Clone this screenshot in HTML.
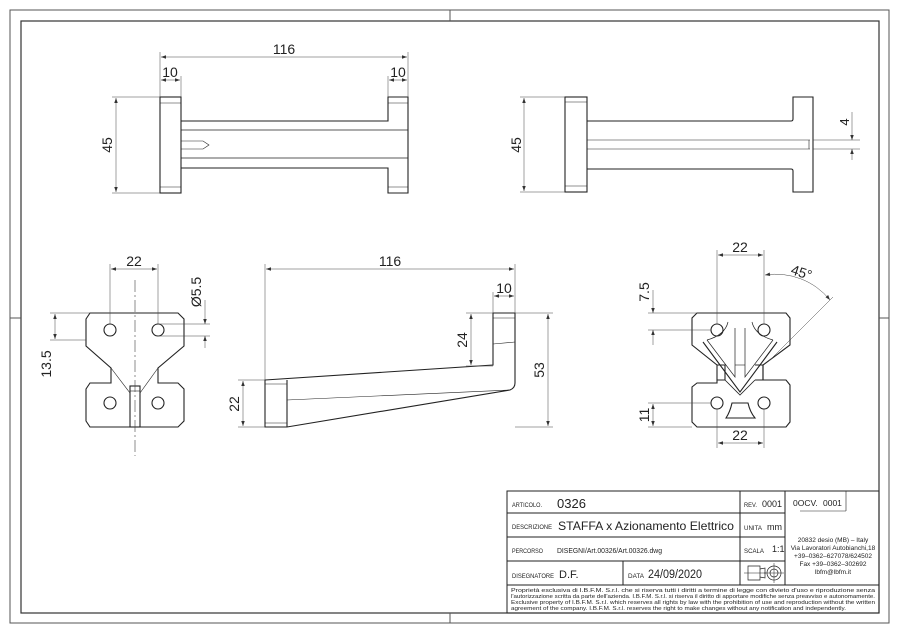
<!DOCTYPE html>
<html><head><meta charset="utf-8"><style>
html,body{margin:0;padding:0;background:#fff}
svg{display:block}
text{font-family:"Liberation Sans",sans-serif;fill:#222}
</style></head><body>
<svg width="900" height="635" viewBox="0 0 900 635" xmlns="http://www.w3.org/2000/svg">
<defs>
<marker id="a" viewBox="0 0 10 10" refX="10" refY="5" markerWidth="7" markerHeight="5" orient="auto-start-reverse" markerUnits="userSpaceOnUse"><path d="M0,1.5 L10,5 L0,8.5z" fill="#333"/></marker>
</defs>
<rect x="10" y="10" width="879" height="613" fill="none" stroke="#555" stroke-width="1"/>
<rect x="21" y="21" width="858" height="592" fill="none" stroke="#333" stroke-width="1.2"/>
<g stroke="#555" stroke-width="1"><line x1="450" y1="10" x2="450" y2="21"/><line x1="450" y1="613" x2="450" y2="623"/><line x1="10" y1="318" x2="21" y2="318"/><line x1="879" y1="318" x2="889" y2="318"/></g>

<!-- VIEW 1 -->
<g fill="none" stroke="#222" stroke-width="1.1">
<rect x="160" y="97" width="21" height="96"/>
<line x1="160" y1="103" x2="181" y2="103" stroke-width="0.6"/><line x1="160" y1="187" x2="181" y2="187" stroke-width="0.6"/>
<path d="M181,121 H388 V97 H408 V193 H388 V168 H181"/>
<line x1="181" y1="130" x2="408" y2="130" stroke-width="0.7"/><line x1="181" y1="158" x2="408" y2="158" stroke-width="0.7"/>
<line x1="388" y1="103" x2="408" y2="103" stroke-width="0.6"/><line x1="388" y1="187" x2="408" y2="187" stroke-width="0.6"/>
<path d="M181,141 H203 L209,145 L203,149 H181" stroke-width="0.6"/>
</g>
<g stroke="#444" stroke-width="0.5" fill="none">
<line x1="160" y1="52" x2="160" y2="97"/><line x1="408" y1="52" x2="408" y2="97"/><line x1="181" y1="76" x2="181" y2="97"/><line x1="388" y1="76" x2="388" y2="97"/>
<line x1="161" y1="57" x2="407" y2="57" marker-start="url(#a)" marker-end="url(#a)"/>
<line x1="161" y1="80" x2="180" y2="80" marker-start="url(#a)" marker-end="url(#a)"/>
<line x1="389" y1="80" x2="407" y2="80" marker-start="url(#a)" marker-end="url(#a)"/>
<line x1="112" y1="97" x2="160" y2="97"/><line x1="112" y1="193" x2="160" y2="193"/>
<line x1="116" y1="98" x2="116" y2="192" marker-start="url(#a)" marker-end="url(#a)"/>
</g>
<text x="284" y="54" font-size="14" text-anchor="middle">116</text>
<text x="170" y="77" font-size="14" text-anchor="middle">10</text>
<text x="398" y="77" font-size="14" text-anchor="middle">10</text>
<text transform="translate(112,145) rotate(-90)" font-size="14" text-anchor="middle">45</text>

<!-- VIEW 2 -->
<g fill="none" stroke="#222" stroke-width="1.1">
<rect x="565" y="97" width="22" height="95"/>
<line x1="565" y1="102" x2="587" y2="102" stroke-width="0.6"/><line x1="565" y1="186" x2="587" y2="186" stroke-width="0.6"/>
<path d="M587,121 H791 Q793,121 793,119 V97 H813 V192 H793 V171 Q793,169 791,169 H587"/>
<line x1="587" y1="140" x2="810" y2="140" stroke-width="0.6"/><line x1="587" y1="149" x2="810" y2="149" stroke-width="0.6"/>
<line x1="809" y1="140" x2="809" y2="149" stroke-width="0.6"/>
</g>
<g stroke="#444" stroke-width="0.5" fill="none">
<line x1="520" y1="97" x2="565" y2="97"/><line x1="520" y1="192" x2="565" y2="192"/>
<line x1="524" y1="98" x2="524" y2="191" marker-start="url(#a)" marker-end="url(#a)"/>
<line x1="813" y1="140" x2="860" y2="140"/><line x1="813" y1="149" x2="860" y2="149"/>
<line x1="852" y1="112" x2="852" y2="140" marker-end="url(#a)"/><line x1="852" y1="160" x2="852" y2="149" marker-end="url(#a)"/>
</g>
<text transform="translate(521,145) rotate(-90)" font-size="14" text-anchor="middle">45</text>
<text transform="translate(849,122) rotate(-90)" font-size="13" text-anchor="middle">4</text>

<!-- VIEW 3 -->
<g fill="none" stroke="#222" stroke-width="1.1">
<path d="M90,313 H178 L184,319 V346 L158,368 V383 H178 L184,389 V421 L178,427 H90 L86,421 V389 L90,383 H111 V368 L86,346 V319 Z"/>
<line x1="111" y1="368" x2="130" y2="393" stroke-width="0.6"/><line x1="158" y1="368" x2="140" y2="393" stroke-width="0.6"/>
<rect x="130" y="386" width="10" height="41"/>
<line x1="130" y1="391" x2="140" y2="391" stroke-width="0.6"/>
<circle cx="110" cy="330" r="6"/><circle cx="158" cy="330" r="6"/><circle cx="110" cy="403" r="6"/><circle cx="158" cy="403" r="6"/>
</g>
<line x1="135" y1="280" x2="135" y2="456" stroke="#444" stroke-width="0.6" stroke-dasharray="12,3,2,3"/>
<g stroke="#444" stroke-width="0.5" fill="none">
<line x1="110" y1="264" x2="110" y2="324"/><line x1="158" y1="264" x2="158" y2="324"/>
<line x1="111" y1="269" x2="157" y2="269" marker-start="url(#a)" marker-end="url(#a)"/>
<line x1="50" y1="313" x2="90" y2="313"/><line x1="50" y1="340" x2="86" y2="340"/>
<line x1="55" y1="314" x2="55" y2="339" marker-start="url(#a)" marker-end="url(#a)"/>
<line x1="158" y1="324" x2="210" y2="324"/><line x1="158" y1="336" x2="210" y2="336"/>
<line x1="205" y1="300" x2="205" y2="324" marker-end="url(#a)"/><line x1="205" y1="348" x2="205" y2="336" marker-end="url(#a)"/>
</g>
<text x="134" y="266" font-size="14" text-anchor="middle">22</text>
<text transform="translate(51,364) rotate(-90)" font-size="14" text-anchor="middle">13.5</text>
<text transform="translate(201,292) rotate(-90)" font-size="14" text-anchor="middle">Ø5.5</text>

<!-- VIEW 4 -->
<g fill="none" stroke="#222" stroke-width="1.1">
<path d="M265,380 L493,365 V313 H515 V383 Q515,388 510,390 L287,427 H265 Z"/>
<line x1="287" y1="380" x2="287" y2="427"/>
<line x1="265" y1="384" x2="287" y2="384" stroke-width="0.6"/><line x1="265" y1="423" x2="287" y2="423" stroke-width="0.6"/>
<line x1="493" y1="318" x2="515" y2="318" stroke-width="0.6"/><line x1="493" y1="344" x2="515" y2="342" stroke-width="0.6"/>
<line x1="287" y1="400" x2="510" y2="390" stroke-width="0.6"/>
</g>
<g stroke="#444" stroke-width="0.5" fill="none">
<line x1="265" y1="264" x2="265" y2="380"/><line x1="515" y1="264" x2="515" y2="313"/><line x1="493" y1="292" x2="493" y2="313"/>
<line x1="266" y1="269" x2="514" y2="269" marker-start="url(#a)" marker-end="url(#a)"/>
<line x1="494" y1="296" x2="514" y2="296" marker-start="url(#a)" marker-end="url(#a)"/>
<line x1="466" y1="313" x2="493" y2="313"/><line x1="466" y1="366" x2="493" y2="366"/>
<line x1="471" y1="314" x2="471" y2="365" marker-start="url(#a)" marker-end="url(#a)"/>
<line x1="515" y1="313" x2="553" y2="313"/><line x1="515" y1="427" x2="553" y2="427"/>
<line x1="548" y1="314" x2="548" y2="426" marker-start="url(#a)" marker-end="url(#a)"/>
<line x1="238" y1="380" x2="265" y2="380"/><line x1="238" y1="427" x2="265" y2="427"/>
<line x1="243" y1="381" x2="243" y2="426" marker-start="url(#a)" marker-end="url(#a)"/>
</g>
<text x="390" y="266" font-size="14" text-anchor="middle">116</text>
<text x="504" y="293" font-size="14" text-anchor="middle">10</text>
<text transform="translate(467,340) rotate(-90)" font-size="14" text-anchor="middle">24</text>
<text transform="translate(544,370) rotate(-90)" font-size="14" text-anchor="middle">53</text>
<text transform="translate(239,404) rotate(-90)" font-size="14" text-anchor="middle">22</text>

<!-- VIEW 5 -->
<g fill="none" stroke="#222" stroke-width="1.1">
<path d="M697,313 H786 L790,318 V345 L763,365 V380 H786 L790,385 V422 L786,427 H697 L692,422 V387 L697,383 H717 V365 L692,345 V318 Z"/>
<path d="M717,365 H725 V380 H717"/><path d="M755,365 H763 V380 H755"/>
<path d="M703,342 L740,392 L777,342"/>
<path d="M725,380 L740,395 L755,380" stroke-width="0.8"/>
<path d="M707,340 L735,377 V328" stroke-width="0.7"/><path d="M773,340 L745,377 V328" stroke-width="0.7"/>
<path d="M707,340 Q725,335 728,322" stroke-width="0.7"/><path d="M773,340 Q755,335 752,322" stroke-width="0.7"/>
<line x1="735" y1="365" x2="745" y2="365" stroke-width="0.6"/>
<path d="M732,403 H748 Q750,412 755,418 H726 Q730,412 732,403 Z"/>
<circle cx="717" cy="330" r="6"/><circle cx="764" cy="330" r="6"/><circle cx="717" cy="403" r="6"/><circle cx="764" cy="403" r="6"/>
</g>
<g stroke="#444" stroke-width="0.5" fill="none">
<line x1="717" y1="250" x2="717" y2="324"/><line x1="764" y1="250" x2="764" y2="324"/>
<line x1="718" y1="255" x2="763" y2="255" marker-start="url(#a)" marker-end="url(#a)"/>
<line x1="717" y1="409" x2="717" y2="448"/><line x1="764" y1="409" x2="764" y2="448"/>
<line x1="718" y1="443" x2="763" y2="443" marker-start="url(#a)" marker-end="url(#a)"/>
<path d="M765,275 A70,70 0 0 1 830,300" marker-start="url(#a)" marker-end="url(#a)"/>
<line x1="833" y1="297" x2="769" y2="361"/>
<line x1="648" y1="313" x2="697" y2="313"/><line x1="648" y1="330" x2="711" y2="330"/>
<line x1="653" y1="290" x2="653" y2="313" marker-end="url(#a)"/><line x1="653" y1="345" x2="653" y2="330" marker-end="url(#a)"/>
<line x1="648" y1="403" x2="711" y2="403"/><line x1="648" y1="427" x2="692" y2="427"/>
<line x1="653" y1="404" x2="653" y2="426" marker-start="url(#a)" marker-end="url(#a)"/>
</g>
<text x="740" y="252" font-size="14" text-anchor="middle">22</text>
<text x="740" y="440" font-size="14" text-anchor="middle">22</text>
<text transform="translate(800,277) rotate(18)" font-size="14" text-anchor="middle">45°</text>
<text transform="translate(649,292) rotate(-90)" font-size="14" text-anchor="middle">7.5</text>
<text transform="translate(649,415) rotate(-90)" font-size="14" text-anchor="middle">11</text>

<!-- TITLE BLOCK -->
<g fill="none" stroke="#222" stroke-width="1">
<rect x="507" y="491" width="372" height="122"/>
<line x1="507" y1="513" x2="785" y2="513"/><line x1="507" y1="537" x2="785" y2="537"/>
<line x1="507" y1="561" x2="785" y2="561"/><line x1="507" y1="585" x2="879" y2="585"/>
<line x1="740" y1="491" x2="740" y2="585"/><line x1="785" y1="491" x2="785" y2="585"/>
<line x1="623" y1="561" x2="623" y2="585"/>
<line x1="846" y1="491" x2="846" y2="511" stroke-width="0.6"/><line x1="800" y1="511" x2="846" y2="511" stroke-width="0.6"/>
<path d="M748,566 L760,566 L760,580 L748,580 Z M760,569 L765,568 V578 L760,577" stroke-width="0.7"/>
<line x1="744" y1="573" x2="766" y2="573" stroke-width="0.5"/>
<circle cx="774" cy="573" r="7" stroke-width="0.7"/><circle cx="774" cy="573" r="4" stroke-width="0.7"/>
<line x1="764" y1="573" x2="784" y2="573" stroke-width="0.5"/><line x1="774" y1="563" x2="774" y2="583" stroke-width="0.5"/>
</g>
<g>
<text x="512" y="507" font-size="6.5" textLength="30" lengthAdjust="spacingAndGlyphs">ARTICOLO.</text>
<text x="557" y="508" font-size="13">0326</text>
<text x="512" y="529" font-size="6.5" textLength="40" lengthAdjust="spacingAndGlyphs">DESCRIZIONE</text>
<text x="558" y="530" font-size="12" textLength="176" lengthAdjust="spacingAndGlyphs">STAFFA x Azionamento Elettrico</text>
<text x="512" y="553" font-size="6.5" textLength="31" lengthAdjust="spacingAndGlyphs">PERCORSO</text>
<text x="557" y="553" font-size="7" textLength="105" lengthAdjust="spacingAndGlyphs">DISEGNI/Art.00326/Art.00326.dwg</text>
<text x="512" y="578" font-size="6.5" textLength="42" lengthAdjust="spacingAndGlyphs">DISEGNATORE</text>
<text x="559" y="578" font-size="11">D.F.</text>
<text x="628" y="578" font-size="6.5" textLength="16" lengthAdjust="spacingAndGlyphs">DATA</text>
<text x="648" y="578" font-size="11.5" textLength="54" lengthAdjust="spacingAndGlyphs">24/09/2020</text>
<text x="744" y="507" font-size="6.5" textLength="13" lengthAdjust="spacingAndGlyphs">REV.</text>
<text x="762" y="507" font-size="9" textLength="20" lengthAdjust="spacingAndGlyphs">0001</text>
<text x="744" y="530" font-size="6.5" textLength="18" lengthAdjust="spacingAndGlyphs">UNITA</text>
<text x="767" y="530" font-size="9">mm</text>
<text x="744" y="553" font-size="6.5" textLength="20" lengthAdjust="spacingAndGlyphs">SCALA</text>
<text x="772" y="552" font-size="9">1:1</text>
<text x="793" y="506" font-size="8.5">0OCV.</text>
<text x="823" y="506" font-size="8.5">0001</text>
<g font-size="6.5" text-anchor="middle">
<text x="833" y="542">20832 desio (MB) – Italy</text>
<text x="833" y="550">Via Lavoratori Autobianchi,18</text>
<text x="833" y="558">+39–0362–627078/624502</text>
<text x="833" y="566">Fax +39–0362–302692</text>
<text x="833" y="574">lbfm@lbfm.it</text>
</g>
<g font-size="5.6">
<text x="511" y="592" textLength="364" lengthAdjust="spacingAndGlyphs">Proprietà esclusiva di I.B.F.M. S.r.l. che si riserva tutti i diritti a termine di legge con divieto d'uso e riproduzione senza</text>
<text x="511" y="598" textLength="364" lengthAdjust="spacingAndGlyphs">l'autorizzazione scritta da parte dell'azienda. I.B.F.M. S.r.l. si riserva il diritto di apportare modifiche senza preavviso e autonomamente.</text>
<text x="511" y="604" textLength="364" lengthAdjust="spacingAndGlyphs">Exclusive property of I.B.F.M. S.r.l. which reserves all rights by law with the prohibition of use and reproduction without the written</text>
<text x="511" y="610" textLength="335" lengthAdjust="spacingAndGlyphs">agreement of the company. I.B.F.M. S.r.l. reserves the right to make changes without any notification and independently.</text>
</g>
</g>
</svg>
</body></html>
